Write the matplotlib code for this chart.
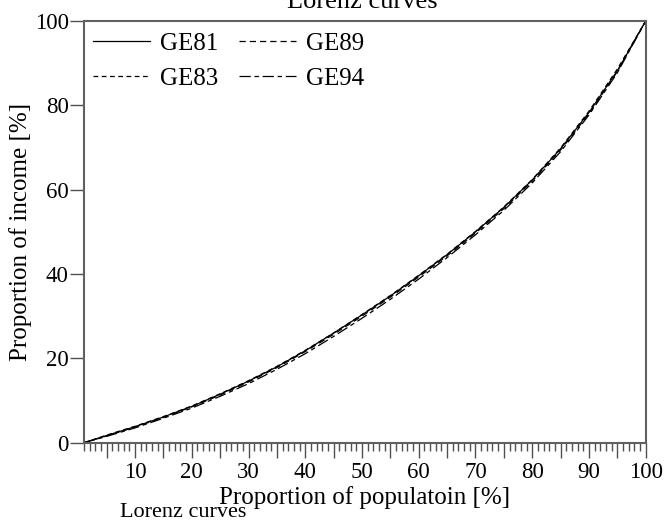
import matplotlib
matplotlib.use("Agg")
import matplotlib.pyplot as plt
from matplotlib.ticker import MultipleLocator

plt.rcParams['font.family'] = ['Liberation Serif', 'DejaVu Serif']

# observation index (percent of population)
obs = [1, 5, 10, 15, 20, 25, 30, 35, 40, 45, 50, 55, 60, 65, 70, 75, 80, 85, 90, 95, 100]

ge81 = [0, 1.7, 3.8, 6.1, 8.6, 11.5, 14.6, 18.0, 21.8, 26.0, 30.3, 34.8, 39.6, 44.6, 50.0, 55.8, 62.3, 69.7, 78.3, 88.2, 100]
ge83 = [0, 1.8, 3.9, 6.2, 8.7, 11.6, 14.7, 18.1, 21.9, 26.0, 30.4, 34.9, 39.7, 44.7, 50.1, 55.9, 62.4, 69.9, 78.6, 88.6, 100]
ge89 = [0, 1.6, 3.7, 6.0, 8.5, 11.3, 14.4, 17.8, 21.6, 25.7, 30.0, 34.5, 39.3, 44.3, 49.7, 55.5, 62.0, 69.4, 78.0, 88.0, 100]
ge94 = [0, 1.5, 3.5, 5.8, 8.2, 11.0, 14.0, 17.4, 21.1, 25.2, 29.5, 34.0, 38.8, 43.9, 49.3, 55.1, 61.6, 69.0, 77.7, 87.7, 100]

series = [("GE81", ge81), ("GE89", ge89), ("GE83", ge83), ("GE94", ge94)]
styles = {
    "GE81": dict(linestyle='-'),
    "GE89": dict(dashes=(5, 3.2)),
    "GE83": dict(dashes=(3.8, 2.8)),
    "GE94": dict(dashes=(9, 3, 3.5, 3)),
}

fig = plt.figure(figsize=(6.68, 5.21), dpi=100)
ax = fig.add_axes([0.1257, 0.1503, 0.9666 - 0.1257, 0.9597 - 0.1503])

handles = {}
for name, vals in series:
    h, = ax.plot(obs, vals, color='black', lw=0.9, label=name, **styles[name])
    handles[name] = h

ax.set_xlim(1, 100)
ax.set_ylim(0, 100)

ax.xaxis.set_minor_locator(MultipleLocator(1))
ax.set_xticks(list(range(5, 101, 5)))
ax.set_xticklabels([str(v) if v % 10 == 0 else '' for v in range(5, 101, 5)])
ax.set_yticks([0, 20, 40, 60, 80, 100])
ax.tick_params(axis='x', which='major', length=11, width=1.0, color='#505050',
               direction='out', labelsize=16.5, pad=3)
ax.tick_params(axis='x', which='minor', length=6, width=1.0, color='#505050', direction='out')
ax.tick_params(axis='y', which='major', length=10, width=1.0, color='#505050',
               direction='out', labelsize=16.5, pad=1)
ax.tick_params(axis='y', which='minor', length=0)

for sp in ax.spines.values():
    sp.set_color('#606060')
    sp.set_linewidth(1.5)

ax.set_xlabel('Proportion of populatoin [%]', fontsize=18)
ax.xaxis.label.set_va('baseline')
ax.xaxis.set_label_coords(0.5, -(504 - 442.7) / 421.7)
ax.set_ylabel('Proportion of income [%]', fontsize=18, labelpad=2)

leg = ax.legend([handles['GE81'], handles['GE83'], handles['GE89'], handles['GE94']],
                ['GE81', 'GE83', 'GE89', 'GE94'],
                ncol=2, loc='upper left', frameon=False, fontsize=18,
                handlelength=2.3, handletextpad=0.4, columnspacing=0.8,
                labelspacing=0.5, borderpad=0.35, borderaxespad=0.1,
                bbox_to_anchor=(-0.004, 1.0))

fig.text(0.543, 1.0 - 8 / 521, 'Lorenz curves', ha='center', va='baseline', fontsize=19)
fig.text(120 / 668, 1.0 - 517 / 521, 'Lorenz curves', ha='left', va='baseline', fontsize=16)

fig.savefig('out.png', dpi=100)
